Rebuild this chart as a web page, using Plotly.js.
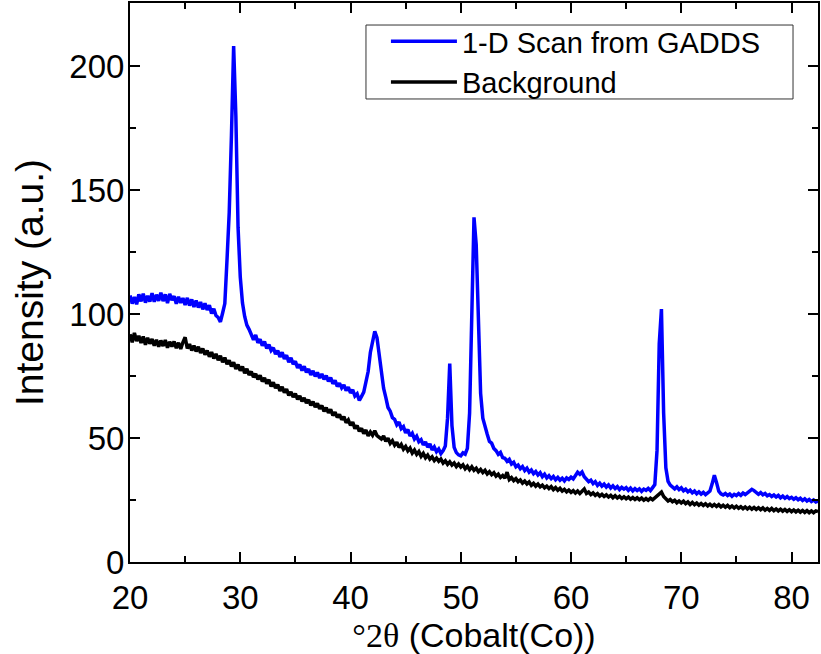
<!DOCTYPE html>
<html>
<head>
<meta charset="utf-8">
<script src="https://cdn.plot.ly/plotly-3.0.1.min.js"></script>
<style>body{margin:0;padding:0;background:#fff;}#chart{width:821px;height:654px;}</style>
</head>
<body>
<div id="chart"></div>
<script>
// 2-theta scan grid: start and step (degrees)
var scanStart = 20.0;
var scanStep = 0.2;

var seriesNames = ["1-D Scan from GADDS", "Background"];

// 1-D Scan from GADDS (blue), one row per degree: x.0, x.2, x.4, x.6, x.8
var scanValues = [
  107.5, 104.2, 106.8, 103.9, 107.9, // 20
  105.1, 108.2, 104.6, 107.3, 105.0, // 21
  108.4, 104.9, 107.8, 105.3, 108.6, // 22
  105.2, 107.9, 104.4, 108.1, 105.6, // 23
  107.2, 104.1, 106.9, 104.5, 106.4, // 24
  103.6, 106.5, 103.4, 105.9, 102.8, // 25
  105.4, 102.6, 104.8, 101.9, 104.3, // 26
  101.6, 103.5, 100.2, 102.1, 99.4,  // 27
  98.6, 96.8, 100.4, 104.2, 122.0,   // 28
  141.0, 172.0, 208.0, 180.0, 135.0, // 29
  115.0, 104.5, 99.0, 95.5, 93.8,    // 30
  91.2, 89.6, 91.5, 88.4, 89.8,      // 31
  87.2, 88.9, 86.1, 87.6, 85.3,      // 32
  86.4, 83.8, 85.2, 82.7, 84.6,      // 33
  81.9, 83.4, 80.6, 82.3, 79.8,      // 34
  80.9, 78.3, 79.6, 77.2, 78.9,      // 35
  76.5, 77.8, 75.4, 77.1, 74.9,      // 36
  76.4, 74.2, 75.8, 73.6, 75.1,      // 37
  72.8, 74.3, 71.9, 73.2, 70.8,      // 38
  72.1, 70.2, 71.4, 69.1, 70.5,      // 39
  68.2, 69.4, 66.9, 67.8, 65.1,      // 40
  66.8, 68.5, 72.6, 76.8, 84.5,      // 41
  89.8, 93.0, 90.5, 84.2, 76.5,      // 42
  70.1, 66.4, 62.3, 60.8, 58.2,      // 43
  57.5, 55.3, 56.4, 53.8, 54.6,      // 44
  52.1, 53.4, 50.8, 51.9, 49.6,      // 45
  50.7, 48.5, 49.3, 47.2, 48.4,      // 46
  46.3, 47.6, 45.2, 46.4, 44.5,      // 47
  45.6, 43.7, 44.9, 46.8, 58.0,      // 48
  80.0, 55.0, 46.2, 44.1, 43.2,      // 49
  42.8, 44.0, 43.5, 45.8, 60.0,      // 50
  95.0, 139.0, 128.0, 92.0, 68.0,    // 51
  58.0, 54.0, 51.5, 48.6, 47.9,      // 52
  45.8, 44.9, 43.4, 44.2, 42.1,      // 53
  41.8, 40.6, 41.4, 39.5, 40.2,      // 54
  38.4, 39.1, 37.6, 38.5, 36.9,      // 55
  37.8, 36.2, 37.1, 35.6, 36.5,      // 56
  35.1, 36.0, 34.4, 35.4, 33.9,      // 57
  34.8, 33.6, 34.5, 33.2, 34.1,      // 58
  33.0, 33.8, 32.7, 33.9, 33.3,      // 59
  34.2, 33.5, 35.1, 36.2, 35.4,      // 60
  36.3, 34.4, 33.5, 32.4, 33.0,      // 61
  31.6, 32.4, 30.9, 31.8, 30.6,      // 62
  31.4, 30.2, 31.1, 29.8, 30.7,      // 63
  29.6, 30.4, 29.2, 30.1, 29.4,      // 64
  30.0, 28.9, 29.8, 28.7, 29.6,      // 65
  28.8, 29.5, 28.5, 29.4, 28.9,      // 66
  29.7, 28.8, 30.0, 31.2, 45.0,      // 67
  88.0, 102.0, 60.0, 38.0, 32.5,     // 68
  31.0, 30.1, 29.5, 30.3, 29.2,      // 69
  29.9, 28.7, 29.4, 28.3, 29.0,      // 70
  27.9, 28.6, 27.5, 28.3, 27.4,      // 71
  28.1, 27.2, 27.9, 28.6, 31.5,      // 72
  35.0, 32.0, 28.6, 27.5, 27.0,      // 73
  27.6, 26.8, 27.4, 26.5, 27.3,      // 74
  26.8, 27.6, 26.9, 27.8, 27.2,      // 75
  27.9, 28.6, 29.3, 28.8, 28.1,      // 76
  27.3, 28.0, 27.1, 27.6, 26.7,      // 77
  27.2, 26.4, 27.0, 26.2, 26.9,      // 78
  25.9, 26.6, 25.7, 26.4, 25.6,      // 79
  26.1, 25.3, 25.9, 25.1, 25.7,      // 80
  24.8, 25.5, 24.6, 25.2, 24.4,      // 81
  25.0, 24.2, 24.6                   // 82
];

// Background (black)
var backgroundValues = [
  91.8, 88.6, 92.4, 89.1, 91.2, // 20
  88.3, 90.9, 87.6, 90.4, 88.0, // 21
  89.9, 87.2, 89.6, 86.8, 89.3, // 22
  87.1, 89.5, 86.4, 88.8, 86.9, // 23
  88.9, 86.2, 88.4, 85.9, 88.6, // 24
  90.6, 86.1, 87.9, 85.3, 87.2, // 25
  84.9, 86.8, 84.3, 86.1, 83.6, // 26
  85.2, 82.8, 84.6, 82.1, 83.9, // 27
  81.4, 83.1, 80.6, 82.4, 79.8, // 28
  81.3, 78.9, 80.5, 77.8, 79.6, // 29
  77.2, 78.8, 76.1, 77.9, 75.4, // 30
  76.8, 74.5, 75.9, 73.6, 75.3, // 31
  72.8, 74.2, 71.9, 73.5, 70.8, // 32
  72.4, 70.1, 71.5, 69.0, 70.6, // 33
  68.3, 69.7, 67.2, 68.6, 66.5, // 34
  67.9, 65.6, 67.0, 64.8, 66.2, // 35
  64.1, 65.4, 63.2, 64.7, 62.5, // 36
  63.9, 61.8, 63.1, 60.7, 62.2, // 37
  60.2, 61.5, 59.1, 60.4, 58.3, // 38
  59.5, 57.4, 58.6, 56.2, 57.3, // 39
  55.1, 56.4, 53.8, 55.0, 52.7, // 40
  53.9, 51.8, 53.2, 50.9, 52.4, // 41
  51.1, 52.9, 51.0, 50.3, 49.6, // 42
  50.8, 48.7, 49.9, 47.8, 48.9, // 43
  47.1, 48.3, 46.2, 47.4, 45.5, // 44
  46.6, 44.8, 45.9, 43.9, 45.1, // 45
  43.4, 44.5, 42.6, 43.8, 42.0, // 46
  43.1, 41.5, 42.4, 40.9, 41.9, // 47
  40.6, 41.5, 39.9, 40.8, 39.4, // 48
  40.4, 39.1, 39.9, 38.5, 39.5, // 49
  38.3, 39.2, 37.6, 38.6, 37.2, // 50
  38.4, 37.0, 37.8, 36.4, 37.3, // 51
  36.1, 37.0, 35.5, 36.4, 35.2, // 52
  36.0, 34.6, 35.4, 34.1, 34.9, // 53
  33.8, 36.2, 33.2, 34.0, 32.8, // 54
  33.6, 32.4, 33.1, 31.8, 32.6, // 55
  31.5, 32.3, 30.9, 31.7, 30.6, // 56
  31.4, 30.3, 31.0, 29.9, 30.6, // 57
  29.6, 30.4, 29.2, 30.0, 28.9, // 58
  29.7, 28.6, 29.3, 28.3, 29.0, // 59
  28.1, 28.8, 27.8, 28.6, 27.6, // 60
  28.5, 29.4, 27.6, 28.2, 27.2, // 61
  27.9, 26.9, 27.6, 26.6, 27.3, // 62
  26.4, 27.1, 26.2, 26.9, 25.9, // 63
  26.7, 25.8, 26.5, 25.6, 26.3, // 64
  25.5, 26.2, 25.3, 26.0, 25.2, // 65
  25.9, 25.1, 25.8, 24.9, 25.6, // 66
  24.9, 25.7, 25.1, 25.9, 26.4, // 67
  27.1, 28.2, 26.4, 25.3, 24.6, // 68
  25.2, 24.3, 24.9, 23.9, 24.6, // 69
  23.8, 24.5, 23.5, 24.2, 23.2, // 70
  24.0, 23.1, 23.8, 22.9, 23.6, // 71
  22.8, 23.5, 22.6, 23.3, 22.5, // 72
  23.2, 22.4, 23.1, 22.2, 22.9, // 73
  22.1, 22.8, 21.9, 22.6, 21.8, // 74
  22.5, 21.7, 22.3, 21.5, 22.2, // 75
  21.4, 22.1, 21.3, 22.0, 21.2, // 76
  21.9, 21.1, 21.8, 20.9, 21.6, // 77
  20.8, 21.6, 20.7, 21.4, 20.6, // 78
  21.3, 20.5, 21.2, 20.4, 21.1, // 79
  20.3, 21.0, 20.2, 20.9, 20.1, // 80
  20.8, 20.0, 20.7, 19.9, 20.6, // 81
  19.9, 20.6, 20.3              // 82
];

var xTickVals = [20, 30, 40, 50, 60, 70, 80];
var yTickVals = [0, 50, 100, 150, 200];

function grid(n) {
  var out = [];
  for (var i = 0; i < n; i++) out.push(+(scanStart + i * scanStep).toFixed(2));
  return out;
}

var traces = [
  {x: grid(scanValues.length), y: scanValues, name: seriesNames[0], type: 'scatter', mode: 'lines',
   line: {color: '#0000FF', width: 3.5}},
  {x: grid(backgroundValues.length), y: backgroundValues, name: seriesNames[1], type: 'scatter', mode: 'lines',
   line: {color: '#000000', width: 3.5}}
];

var font = 'Arial, "Liberation Sans", sans-serif';
var layout = {
  width: 821, height: 654,
  margin: {l: 130, r: 3, t: 3, b: 92},
  paper_bgcolor: '#fff', plot_bgcolor: '#fff',
  font: {family: font, color: '#000', size: 30},
  showlegend: true,
  legend: {x: 0.372, y: 0.977, xanchor: 'left', yanchor: 'top', bgcolor: 'rgba(0,0,0,0)',
           borderwidth: 0, font: {family: font, size: 29, color: '#000'},
           itemwidth: 66, tracegroupgap: 0},
  shapes: [{type: 'rect', xref: 'paper', yref: 'paper', x0: 0.343, x1: 0.9637, y0: 0.8283, y1: 0.9606,
            line: {color: '#333', width: 1}, fillcolor: 'rgba(0,0,0,0)', layer: 'above'}],
  xaxis: {range: [20, 82.4], tickvals: xTickVals, ticks: 'inside', ticklen: 10, tickwidth: 2,
          tickcolor: '#000', showline: true, linewidth: 2, linecolor: '#000', mirror: 'ticks',
          showgrid: false, zeroline: false, tickfont: {size: 33}, ticklabelstandoff: 5,
          minor: {dtick: 5, tick0: 25, ticks: 'inside', ticklen: 6, tickwidth: 2, tickcolor: '#000', showgrid: false},
          title: {text: '<span style="font-family:\'Liberation Serif\', \'Times New Roman\', serif">°2θ</span> (Cobalt(Co))',
                  font: {size: 34}, standoff: 6}},
  yaxis: {range: [0, 225.4], tickvals: yTickVals, ticks: 'inside', ticklen: 10, tickwidth: 2,
          tickcolor: '#000', showline: true, linewidth: 2, linecolor: '#000', mirror: 'ticks',
          showgrid: false, zeroline: false, tickfont: {size: 33}, ticklabelstandoff: -3,
          minor: {dtick: 25, tick0: 25, ticks: 'inside', ticklen: 6, tickwidth: 2, tickcolor: '#000', showgrid: false},
          title: {text: 'Intensity (a.u.)', font: {size: 39}, standoff: 14}}
};

Plotly.newPlot('chart', traces, layout, {displayModeBar: false, staticPlot: true});
</script>
</body>
</html>
